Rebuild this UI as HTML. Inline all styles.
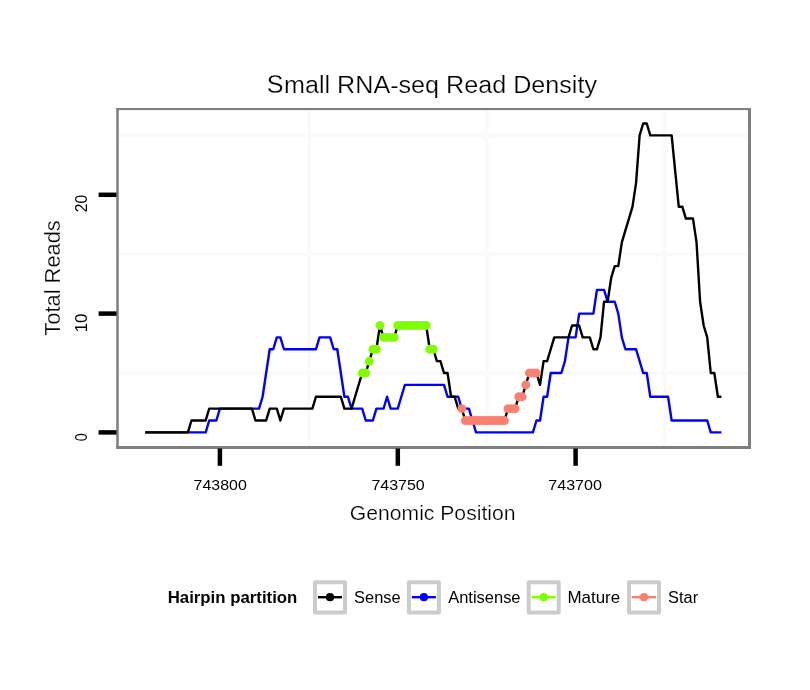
<!DOCTYPE html>
<html><head><meta charset="utf-8"><title>Small RNA-seq Read Density</title>
<style>html,body{margin:0;padding:0;background:#fff}body{width:810px;height:690px;overflow:hidden}.t{stroke:#fff;stroke-width:0.25px;paint-order:fill stroke}</style></head>
<body>
<svg width="810" height="690" viewBox="0 0 810 690" style="display:block;will-change:transform;font-family:'Liberation Sans',sans-serif">
<rect width="810" height="690" fill="#fff"/>
<line x1="308.9" y1="109" x2="308.9" y2="447" stroke="#fafafa" stroke-width="4"/>
<line x1="486.6" y1="109" x2="486.6" y2="447" stroke="#fafafa" stroke-width="4"/>
<line x1="664.4" y1="109" x2="664.4" y2="447" stroke="#fafafa" stroke-width="4"/>
<line x1="118" y1="373.0" x2="749" y2="373.0" stroke="#fafafa" stroke-width="4"/>
<line x1="118" y1="254.2" x2="749" y2="254.2" stroke="#fafafa" stroke-width="4"/>
<line x1="118" y1="135.4" x2="749" y2="135.4" stroke="#fafafa" stroke-width="4"/>
<path d="M145.20 432.40 L148.76 432.40 L152.32 432.40 L155.87 432.40 L159.43 432.40 L162.99 432.40 L166.55 432.40 L170.10 432.40 L173.66 432.40 L177.22 432.40 L180.77 432.40 L184.33 432.40 L187.89 432.40 L191.44 432.40 L195.00 432.40 L198.56 432.40 L202.12 432.40 L205.67 432.40 L209.23 420.52 L212.79 420.52 L216.34 420.52 L219.90 408.64 L223.46 408.64 L227.01 408.64 L230.57 408.64 L234.13 408.64 L237.69 408.64 L241.24 408.64 L244.80 408.64 L248.36 408.64 L251.91 408.64 L255.47 408.64 L259.03 408.64 L262.58 396.76 L266.14 373.00 L269.70 349.24 L273.25 349.24 L276.81 337.36 L280.37 337.36 L283.93 349.24 L287.48 349.24 L291.04 349.24 L294.60 349.24 L298.15 349.24 L301.71 349.24 L305.27 349.24 L308.82 349.24 L312.38 349.24 L315.94 349.24 L319.50 337.36 L323.05 337.36 L326.61 337.36 L330.17 337.36 L333.72 349.24 L337.28 349.24 L340.84 373.00 L344.39 396.76 L347.95 396.76 L351.51 408.64 L355.07 408.64 L358.62 408.64 L362.18 408.64 L365.74 420.52 L369.29 420.52 L372.85 420.52 L376.41 408.64 L379.97 408.64 L383.52 408.64 L387.08 396.76 L390.64 408.64 L394.19 408.64 L397.75 408.64 L401.31 396.76 L404.86 384.88 L408.42 384.88 L411.98 384.88 L415.53 384.88 L419.09 384.88 L422.65 384.88 L426.21 384.88 L429.76 384.88 L433.32 384.88 L436.88 384.88 L440.43 384.88 L443.99 384.88 L447.55 396.76 L451.11 396.76 L454.66 396.76 L458.22 396.76 L461.78 408.64 L465.33 408.64 L468.89 408.64 L472.45 420.52 L476.00 432.40 L479.56 432.40 L483.12 432.40 L486.67 432.40 L490.23 432.40 L493.79 432.40 L497.35 432.40 L500.90 432.40 L504.46 432.40 L508.02 432.40 L511.57 432.40 L515.13 432.40 L518.69 432.40 L522.25 432.40 L525.80 432.40 L529.36 432.40 L532.92 432.40 L536.47 420.52 L540.03 420.52 L543.59 396.76 L547.14 396.76 L550.70 373.00 L554.26 373.00 L557.82 373.00 L561.37 373.00 L564.93 361.12 L568.49 337.36 L572.04 337.36 L575.60 337.36 L579.16 313.60 L582.71 313.60 L586.27 313.60 L589.83 313.60 L593.38 313.60 L596.94 289.84 L600.50 289.84 L604.06 289.84 L607.61 301.72 L611.17 301.72 L614.73 301.72 L618.28 313.60 L621.84 337.36 L625.40 349.24 L628.96 349.24 L632.51 349.24 L636.07 349.24 L639.63 361.12 L643.18 373.00 L646.74 373.00 L650.30 396.76 L653.85 396.76 L657.41 396.76 L660.97 396.76 L664.52 396.76 L668.08 396.76 L671.64 420.52 L675.20 420.52 L678.75 420.52 L682.31 420.52 L685.87 420.52 L689.42 420.52 L692.98 420.52 L696.54 420.52 L700.10 420.52 L703.65 420.52 L707.21 420.52 L710.77 432.40 L714.32 432.40 L717.88 432.40 L721.44 432.40" fill="none" stroke="#0000ff" stroke-width="2.40" stroke-linejoin="round" stroke-linecap="butt"/>
<path d="M145.20 432.40 L148.76 432.40 L152.32 432.40 L155.87 432.40 L159.43 432.40 L162.99 432.40 L166.55 432.40 L170.10 432.40 L173.66 432.40 L177.22 432.40 L180.77 432.40 L184.33 432.40 L187.89 432.40 L191.44 420.52 L195.00 420.52 L198.56 420.52 L202.12 420.52 L205.67 420.52 L209.23 408.64 L212.79 408.64 L216.34 408.64 L219.90 408.64 L223.46 408.64 L227.01 408.64 L230.57 408.64 L234.13 408.64 L237.69 408.64 L241.24 408.64 L244.80 408.64 L248.36 408.64 L251.91 408.64 L255.47 420.52 L259.03 420.52 L262.58 420.52 L266.14 420.52 L269.70 408.64 L273.25 408.64 L276.81 408.64 L280.37 420.52 L283.93 408.64 L287.48 408.64 L291.04 408.64 L294.60 408.64 L298.15 408.64 L301.71 408.64 L305.27 408.64 L308.82 408.64 L312.38 408.64 L315.94 396.76 L319.50 396.76 L323.05 396.76 L326.61 396.76 L330.17 396.76 L333.72 396.76 L337.28 396.76 L340.84 396.76 L344.39 408.64 L347.95 408.64 L351.51 408.64 L355.07 396.76 L358.62 384.88 L362.18 373.00 L365.74 373.00 L369.29 361.12 L372.85 349.24 L376.41 349.24 L379.97 325.48 L383.52 337.36 L387.08 337.36 L390.64 337.36 L394.19 337.36 L397.75 325.48 L401.31 325.48 L404.86 325.48 L408.42 325.48 L411.98 325.48 L415.53 325.48 L419.09 325.48 L422.65 325.48 L426.21 325.48 L429.76 349.24 L433.32 349.24 L436.88 361.12 L440.43 361.12 L443.99 373.00 L447.55 373.00 L451.11 396.76 L454.66 396.76 L458.22 408.64 L461.78 408.64 L465.33 420.52 L468.89 420.52 L472.45 420.52 L476.00 420.52 L479.56 420.52 L483.12 420.52 L486.67 420.52 L490.23 420.52 L493.79 420.52 L497.35 420.52 L500.90 420.52 L504.46 420.52 L508.02 408.64 L511.57 408.64 L515.13 408.64 L518.69 396.76 L522.25 396.76 L525.80 384.88 L529.36 373.00 L532.92 373.00 L536.47 373.00 L540.03 384.88 L543.59 361.12 L547.14 361.12 L550.70 349.24 L554.26 337.36 L557.82 337.36 L561.37 337.36 L564.93 337.36 L568.49 337.36 L572.04 325.48 L575.60 325.48 L579.16 325.48 L582.71 337.36 L586.27 337.36 L589.83 337.36 L593.38 349.24 L596.94 349.24 L600.50 337.36 L604.06 301.72 L607.61 301.72 L611.17 277.96 L614.73 266.08 L618.28 266.08 L621.84 242.32 L625.40 230.44 L628.96 218.56 L632.51 206.68 L636.07 182.92 L639.63 135.40 L643.18 123.52 L646.74 123.52 L650.30 135.40 L653.85 135.40 L657.41 135.40 L660.97 135.40 L664.52 135.40 L668.08 135.40 L671.64 135.40 L675.20 171.04 L678.75 206.68 L682.31 206.68 L685.87 218.56 L689.42 218.56 L692.98 218.56 L696.54 242.32 L700.10 301.72 L703.65 325.48 L707.21 337.36 L710.77 373.00 L714.32 373.00 L717.88 396.76 L721.44 396.76" fill="none" stroke="#000" stroke-width="2.40" stroke-linejoin="round" stroke-linecap="butt"/>
<g fill="#7fff00">
<circle cx="362.18" cy="373.00" r="4.40"/>
<circle cx="365.74" cy="373.00" r="4.40"/>
<circle cx="369.29" cy="361.12" r="4.40"/>
<circle cx="372.85" cy="349.24" r="4.40"/>
<circle cx="376.41" cy="349.24" r="4.40"/>
<circle cx="379.97" cy="325.48" r="4.40"/>
<circle cx="383.52" cy="337.36" r="4.40"/>
<circle cx="387.08" cy="337.36" r="4.40"/>
<circle cx="390.64" cy="337.36" r="4.40"/>
<circle cx="394.19" cy="337.36" r="4.40"/>
<circle cx="397.75" cy="325.48" r="4.40"/>
<circle cx="401.31" cy="325.48" r="4.40"/>
<circle cx="404.86" cy="325.48" r="4.40"/>
<circle cx="408.42" cy="325.48" r="4.40"/>
<circle cx="411.98" cy="325.48" r="4.40"/>
<circle cx="415.53" cy="325.48" r="4.40"/>
<circle cx="419.09" cy="325.48" r="4.40"/>
<circle cx="422.65" cy="325.48" r="4.40"/>
<circle cx="426.21" cy="325.48" r="4.40"/>
<circle cx="429.76" cy="349.24" r="4.40"/>
<circle cx="433.32" cy="349.24" r="4.40"/>
</g><g fill="#fa8072">
<circle cx="461.78" cy="408.64" r="4.40"/>
<circle cx="465.33" cy="420.52" r="4.40"/>
<circle cx="468.89" cy="420.52" r="4.40"/>
<circle cx="472.45" cy="420.52" r="4.40"/>
<circle cx="476.00" cy="420.52" r="4.40"/>
<circle cx="479.56" cy="420.52" r="4.40"/>
<circle cx="483.12" cy="420.52" r="4.40"/>
<circle cx="486.67" cy="420.52" r="4.40"/>
<circle cx="490.23" cy="420.52" r="4.40"/>
<circle cx="493.79" cy="420.52" r="4.40"/>
<circle cx="497.35" cy="420.52" r="4.40"/>
<circle cx="500.90" cy="420.52" r="4.40"/>
<circle cx="504.46" cy="420.52" r="4.40"/>
<circle cx="508.02" cy="408.64" r="4.40"/>
<circle cx="511.57" cy="408.64" r="4.40"/>
<circle cx="515.13" cy="408.64" r="4.40"/>
<circle cx="518.69" cy="396.76" r="4.40"/>
<circle cx="522.25" cy="396.76" r="4.40"/>
<circle cx="525.80" cy="384.88" r="4.40"/>
<circle cx="529.36" cy="373.00" r="4.40"/>
<circle cx="532.92" cy="373.00" r="4.40"/>
<circle cx="536.47" cy="373.00" r="4.40"/>
</g>
<g fill="#7f7f7f"><rect x="116.25" y="108" width="2.5" height="341"/><rect x="116.25" y="108" width="634.75" height="2.1"/><rect x="748" y="108" width="3" height="341"/><rect x="116.25" y="446" width="634.75" height="3"/></g>
<line x1="98.6" y1="432.4" x2="116.5" y2="432.4" stroke="#000" stroke-width="4.5"/>
<line x1="98.6" y1="313.6" x2="116.5" y2="313.6" stroke="#000" stroke-width="4.5"/>
<line x1="98.6" y1="194.8" x2="116.5" y2="194.8" stroke="#000" stroke-width="4.5"/>
<line x1="219.9" y1="448.5" x2="219.9" y2="465.8" stroke="#000" stroke-width="4.5"/>
<line x1="397.8" y1="448.5" x2="397.8" y2="465.8" stroke="#000" stroke-width="4.5"/>
<line x1="575.6" y1="448.5" x2="575.6" y2="465.8" stroke="#000" stroke-width="4.5"/>
<text transform="translate(266.72,92.79) scale(1.0087,1.0383)" font-size="24.9" class="t">S</text>
<text transform="translate(284.01,92.90) scale(1.0103,0.9861)" font-size="24.9" class="t">mall RNA-seq Read Density</text>
<text transform="translate(349.83,519.51) scale(1.0167,0.9639)" font-size="20.8" class="t">Genomic Position</text>
<text class="t" transform="translate(60.29,335.68) rotate(-90) scale(1.0522,1.0361)" font-size="20.8">Total Reads</text>
<text transform="translate(193.58,489.93) scale(1.0232,0.9636)" font-size="15.6">743800</text>
<text transform="translate(371.38,489.93) scale(1.0252,0.9636)" font-size="15.6">743750</text>
<text transform="translate(548.28,489.93) scale(1.0311,0.9636)" font-size="15.6">743700</text>
<text transform="translate(86.82,212.30) rotate(-90) scale(1.0062,1.0091)" font-size="15.6">20</text>
<text transform="translate(86.82,332.30) rotate(-90) scale(1.0774,1.0091)" font-size="15.6">10</text>
<text transform="translate(86.82,441.13) rotate(-90) scale(0.9220,1.0091)" font-size="15.6">0</text>
<text transform="translate(167.71,602.80) scale(1.0119,0.9792)" font-size="16.6" font-weight="bold">Hairpin partition</text>
<text transform="translate(354.11,602.63) scale(0.9890,0.9787)" font-size="16.6">Sense</text>
<text transform="translate(448.15,602.63) scale(0.9941,0.9485)" font-size="16.6">Antisense</text>
<text transform="translate(567.44,602.62) scale(1.0222,1.0000)" font-size="16.6">Mature</text>
<text transform="translate(668.11,602.63) scale(0.9872,0.9787)" font-size="16.6">Star</text>
<rect x="315.0" y="582.2" width="30" height="30.3" fill="#fff" stroke="#ccc" stroke-width="4" stroke-linejoin="round"/>
<line x1="318.0" y1="597.2" x2="342.0" y2="597.2" stroke="#000" stroke-width="2.40"/>
<circle cx="330.0" cy="597.2" r="4.10" fill="#000"/>
<rect x="408.9" y="582.2" width="30" height="30.3" fill="#fff" stroke="#ccc" stroke-width="4" stroke-linejoin="round"/>
<line x1="411.9" y1="597.2" x2="435.9" y2="597.2" stroke="#0000ff" stroke-width="2.40"/>
<circle cx="423.9" cy="597.2" r="4.10" fill="#0000ff"/>
<rect x="528.7" y="582.2" width="30" height="30.3" fill="#fff" stroke="#ccc" stroke-width="4" stroke-linejoin="round"/>
<line x1="531.7" y1="597.2" x2="555.7" y2="597.2" stroke="#7fff00" stroke-width="2.40"/>
<circle cx="543.7" cy="597.2" r="4.10" fill="#7fff00"/>
<rect x="629.0" y="582.2" width="30" height="30.3" fill="#fff" stroke="#ccc" stroke-width="4" stroke-linejoin="round"/>
<line x1="632.0" y1="597.2" x2="656.0" y2="597.2" stroke="#fa8072" stroke-width="2.40"/>
<circle cx="644.0" cy="597.2" r="4.10" fill="#fa8072"/>
</svg>
</body></html>
